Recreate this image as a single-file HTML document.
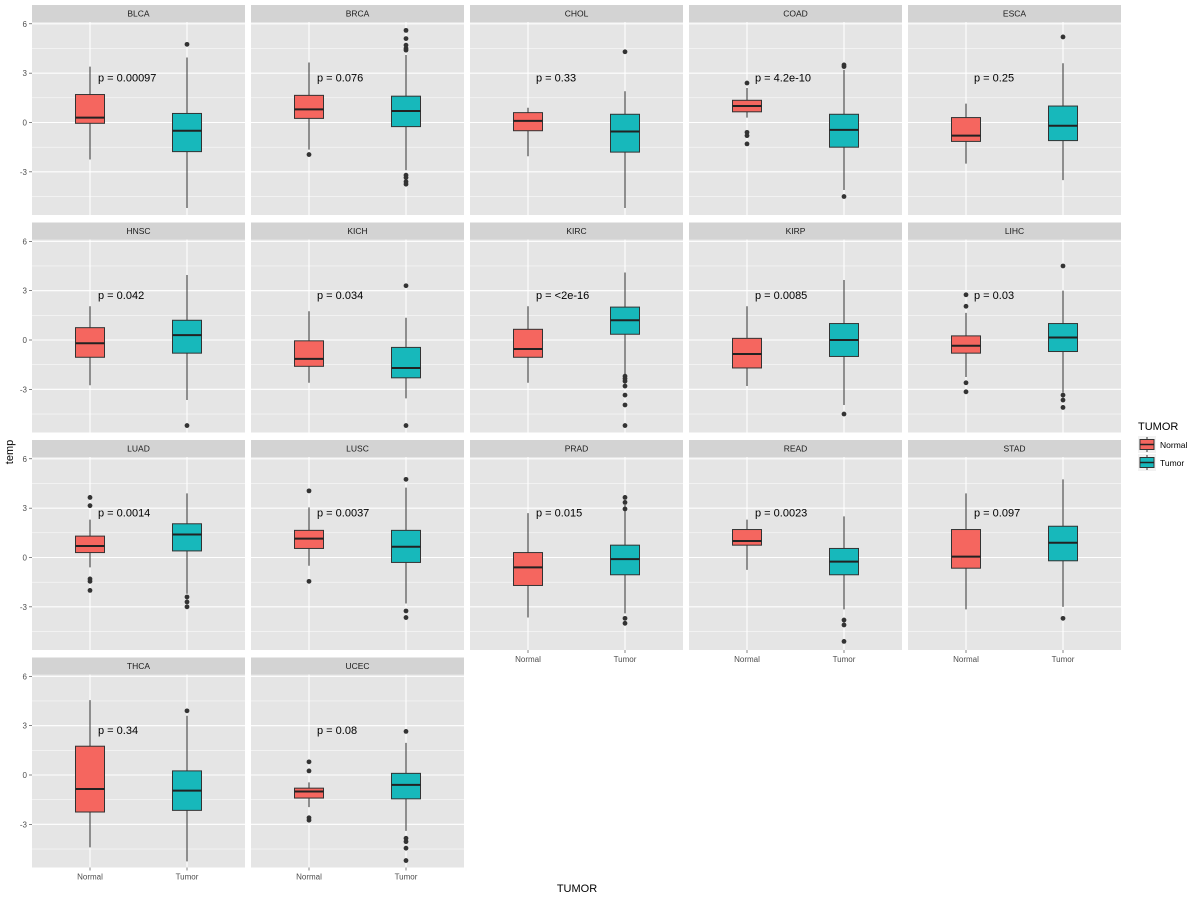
<!DOCTYPE html>
<html><head><meta charset="utf-8"><style>
body{margin:0;background:#fff;}
svg{display:block;font-family:"Liberation Sans",Arial,sans-serif;}
</style></head><body>
<svg id="chart" width="1200" height="900" viewBox="0 0 1200 900" xmlns="http://www.w3.org/2000/svg"></svg>
<script>
const panelNames=["BLCA","BRCA","CHOL","COAD","ESCA","HNSC","KICH","KIRC","KIRP","LIHC","LUAD","LUSC","PRAD","READ","STAD","THCA","UCEC"];
const pLabels=["p = 0.00097","p = 0.076","p = 0.33","p = 4.2e-10","p = 0.25","p = 0.042","p = 0.034","p = <2e-16","p = 0.0085","p = 0.03","p = 0.0014","p = 0.0037","p = 0.015","p = 0.0023","p = 0.097","p = 0.34","p = 0.08"];
// [whiskerLow, q1, median, q3, whiskerHigh]
const normalStats=[
[-2.25,-0.05,0.3,1.7,3.4],[-1.65,0.25,0.8,1.65,3.65],[-2.05,-0.5,0.1,0.6,0.9],[0.3,0.65,1.0,1.35,2.1],[-2.5,-1.15,-0.8,0.3,1.15],
[-2.75,-1.05,-0.2,0.75,2.05],[-2.6,-1.6,-1.15,-0.05,1.75],[-2.6,-1.05,-0.55,0.65,2.05],[-2.8,-1.7,-0.85,0.1,2.05],[-2.25,-0.8,-0.35,0.25,1.65],
[-0.6,0.3,0.7,1.3,2.3],[-0.5,0.55,1.15,1.65,3.05],[-3.65,-1.7,-0.6,0.3,2.7],[-0.75,0.75,1.0,1.7,2.3],[-3.15,-0.65,0.05,1.7,3.9],
[-4.4,-2.25,-0.85,1.75,4.55],[-1.95,-1.4,-1.0,-0.8,-0.45]];
const tumorStats=[
[-5.2,-1.77,-0.5,0.55,3.95],[-2.9,-0.25,0.7,1.6,4.1],[-5.2,-1.8,-0.55,0.5,1.9],[-4.1,-1.5,-0.45,0.5,3.2],[-3.5,-1.1,-0.2,1.0,3.6],
[-3.65,-0.8,0.3,1.2,3.95],[-3.55,-2.3,-1.7,-0.45,1.35],[-2.1,0.35,1.2,2.0,4.1],[-3.95,-1.0,0.0,1.0,3.65],[-3.2,-0.7,0.15,1.0,3.0],
[-2.2,0.4,1.4,2.05,3.9],[-2.8,-0.3,0.65,1.65,4.25],[-3.4,-1.05,-0.1,0.75,3.2],[-3.15,-1.05,-0.25,0.55,2.5],[-3.0,-0.2,0.9,1.9,4.75],
[-5.25,-2.15,-0.95,0.25,3.6],[-3.4,-1.45,-0.6,0.1,1.95]];
const normalOutliers=[[],[-1.95],[],[2.4,-0.6,-0.8,-1.3],[],[],[],[],[],[2.75,2.05,-2.6,-3.15],[3.65,3.15,-1.3,-1.45,-2.0],[4.05,-1.45],[],[],[],[],[0.8,0.25,-2.6,-2.75]];
const tumorOutliers=[[4.75],[5.6,5.1,4.7,4.5,4.4,-3.2,-3.35,-3.6,-3.75],[4.3],[3.5,3.4,-4.5],[5.2],[-5.2],[3.3,-5.2],[-2.2,-2.35,-2.5,-2.8,-3.35,-3.95,-5.2],[-4.5],[4.5,-3.35,-3.65,-4.1],[-2.4,-2.7,-3.0],[4.75,-3.25,-3.65],[3.65,3.35,2.95,-3.7,-4.0],[-3.8,-4.1,-5.1],[-3.7],[3.9],[2.65,-3.85,-4.05,-4.45,-5.2]];
const yTicks=[6,3,0,-3];
const yMinor=[4.5,1.5,-1.5,-4.5];
const groups=["Normal","Tumor"];
const groupColors=["#F5665F","#17B8BB"];

const svg=document.getElementById('chart');
const NS="http://www.w3.org/2000/svg";
function mk(tag,attrs,parent){const e=document.createElementNS(NS,tag);for(const k in attrs)e.setAttribute(k,attrs[k]);(parent||svg).appendChild(e);return e;}
const PW=213,PH=193,colPitch=219,rowPitch=217.5,left0=32,top0=22,stripH=17,unit=16.45;
function panelX(i){return left0+(i%5)*colPitch;}
function panelY(i){return top0+Math.floor(i/5)*rowPitch;}
function yScale(v,i){return panelY(i)+100.5-v*unit;}
function xScale(g,i){return panelX(i)+58+g*97;}

panelNames.forEach((name,i)=>{
  const px=panelX(i),py=panelY(i);
  const g=mk('g',{});
  
  
  const strip=mk('rect',{x:px,y:py-stripH,width:PW,height:stripH,fill:'#d3d3d3'},g);
  
  
  const st=mk('text',{x:px+PW/2,y:py-5.5,'text-anchor':'middle','font-size':8.5,fill:'#1a1a1a'},g);
  st.textContent=name;
  
  
  mk('rect',{x:px,y:py,width:PW,height:PH,fill:'#e5e5e5'},g);
  yMinor.forEach(v=>mk('line',{x1:px,x2:px+PW,y1:yScale(v,i),y2:yScale(v,i),stroke:'#fff','stroke-width':0.5},g));
  yTicks.forEach(v=>mk('line',{x1:px,x2:px+PW,y1:yScale(v,i),y2:yScale(v,i),stroke:'#fff','stroke-width':1.1},g));
  groups.forEach((gn,k)=>mk('line',{x1:xScale(k,i),x2:xScale(k,i),y1:py,y2:py+PH,stroke:'#fff','stroke-width':1.1},g));
  if(i%5===0){
    yTicks.forEach(v=>{
      mk('line',{x1:px-3,x2:px,y1:yScale(v,i),y2:yScale(v,i),stroke:'#333','stroke-width':0.6},g);
      const t=mk('text',{x:px-5,y:yScale(v,i)+3,'text-anchor':'end','font-size':8,fill:'#4d4d4d'},g);
      t.textContent=v;
      
      
    });
  }
  const bottom = i>=12;
  if(bottom){
    groups.forEach((gn,k)=>{
      mk('line',{x1:xScale(k,i),x2:xScale(k,i),y1:py+PH,y2:py+PH+3,stroke:'#333','stroke-width':0.6},g);
      const t=mk('text',{x:xScale(k,i),y:py+PH+12,'text-anchor':'middle','font-size':8,fill:'#4d4d4d'},g);
      t.textContent=gn;
      
      
    });
  }
  [normalStats[i],tumorStats[i]].forEach((s,k)=>{
    const cx=xScale(k,i),hw=14.5;
    const bx=mk('g',{},g);
    
    
    mk('line',{x1:cx,x2:cx,y1:yScale(s[0],i),y2:yScale(s[4],i),stroke:'#333','stroke-width':1},bx);
    mk('rect',{x:cx-hw,y:yScale(s[3],i),width:2*hw,height:yScale(s[1],i)-yScale(s[3],i),fill:groupColors[k],stroke:'#333','stroke-width':1},bx);
    mk('line',{x1:cx-hw,x2:cx+hw,y1:yScale(s[2],i),y2:yScale(s[2],i),stroke:'#222','stroke-width':2},bx);
  });
  [normalOutliers[i],tumorOutliers[i]].forEach((arr,k)=>{
    arr.forEach(v=>{
      const c=mk('circle',{cx:xScale(k,i),cy:yScale(v,i),r:2.4,fill:'#333'},g);
      
      
    });
  });
  const pt=mk('text',{x:px+66,y:yScale(2.74,i)+4,'font-size':11,fill:'#000'},g);
  pt.textContent=pLabels[i];
  
  
});
const yt=mk('text',{x:13,y:452,'text-anchor':'middle','font-size':11,fill:'#000',transform:'rotate(-90 13 452)'});
yt.textContent='temp';


const xt=mk('text',{x:577,y:892,'text-anchor':'middle','font-size':11,fill:'#000'});
xt.textContent='TUMOR';


const lg=mk('g',{});


const lt=mk('text',{x:1138,y:430,'font-size':11,fill:'#000'},lg);
lt.textContent='TUMOR';


groups.forEach((gn,k)=>{
  const ky=436+k*18;
  const e=mk('g',{},lg);
  
  
  mk('rect',{x:1138,y:ky,width:18,height:17,fill:'#f2f2f2'},e);
  mk('line',{x1:1147,x2:1147,y1:ky+1,y2:ky+16,stroke:'#333','stroke-width':1},e);
  mk('rect',{x:1140,y:ky+3.5,width:14,height:10,fill:groupColors[k],stroke:'#333','stroke-width':1},e);
  mk('line',{x1:1140,x2:1154,y1:ky+8.5,y2:ky+8.5,stroke:'#222','stroke-width':1.5},e);
  const t=mk('text',{x:1160,y:ky+12,'font-size':8.5,fill:'#000'},e);
  t.textContent=gn;
});
</script>
</body></html>
